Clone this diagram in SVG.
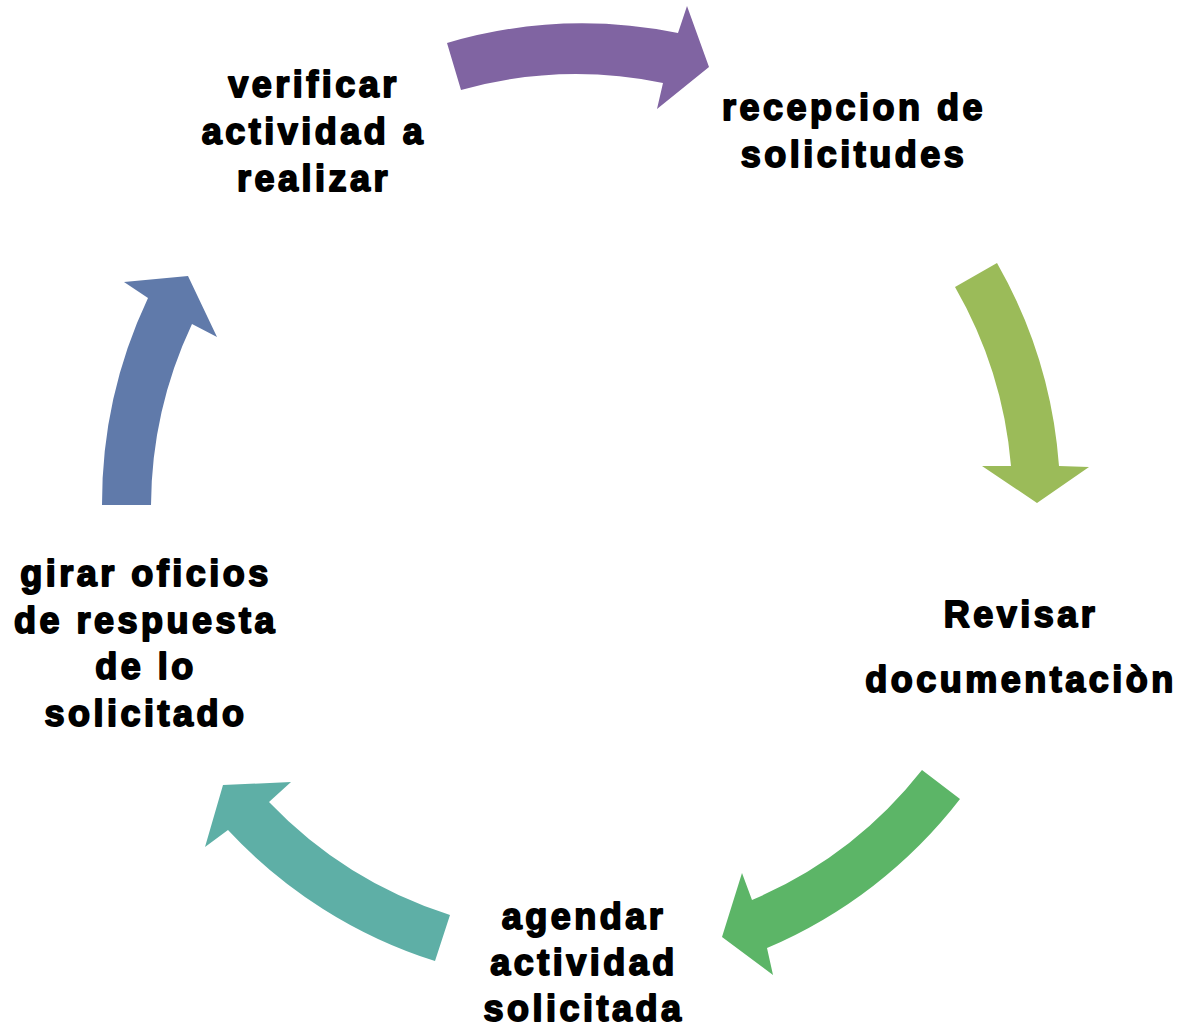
<svg xmlns="http://www.w3.org/2000/svg" width="1189" height="1028" viewBox="0 0 1189 1028">
<style>
.t{font-family:"Liberation Sans",Arial,sans-serif;font-weight:bold;font-size:36px;letter-spacing:3.5px;fill:#000;stroke:#000;stroke-width:1.8;stroke-linejoin:round;text-anchor:middle}
</style>
<rect width="1189" height="1028" fill="#fff"/>
<g id="connectors">
<path id="a1" fill="#8064A2" d="M447,43 A481,481 0 0 1 678,33 L687,6 L709,67 L657,109 L663,83 A431,431 0 0 0 461,90 Z"/>
<path id="a2" fill="#9BBB59" d="M997,263 A481,481 0 0 1 1059,466 L1089,467 L1037,503 L982,466 L1011,466 A431,431 0 0 0 955,287 Z"/>
<path id="a3" fill="#5CB567" d="M960,799 A481,481 0 0 1 767,948 L773,975 L722,937 L742,873 L752,900 A431,431 0 0 0 922,770 Z"/>
<path id="a4" fill="#5EAFA6" d="M435,961 A481,481 0 0 1 228,830 L205,847 L223,785 L291,782 L269,802 A431,431 0 0 0 450,915 Z"/>
<path id="a5" fill="#607AAA" d="M102,505 A481,481 0 0 1 148,298 L124,282 L188,276 L217,337 L192,324 A431,431 0 0 0 151,505 Z"/>
</g>
<g id="n1"><text class="t" x="854" y="120">recepcion de</text><text class="t" x="854" y="167">solicitudes</text></g>
<g id="n2"><text class="t" x="1021" y="627">Revisar</text><text class="t" x="1021" y="692">documentaciòn</text></g>
<g id="n3"><text class="t" x="584" y="929">agendar</text><text class="t" x="584" y="975">actividad</text><text class="t" x="584" y="1021">solicitada</text></g>
<g id="n4"><text class="t" x="146" y="586">girar oficios</text><text class="t" x="146" y="633">de respuesta</text><text class="t" x="146" y="679">de lo</text><text class="t" x="146" y="726">solicitado</text></g>
<g id="n5"><text class="t" x="314" y="97">verificar</text><text class="t" x="314" y="144">actividad a</text><text class="t" x="314" y="191">realizar</text></g>
</svg>
